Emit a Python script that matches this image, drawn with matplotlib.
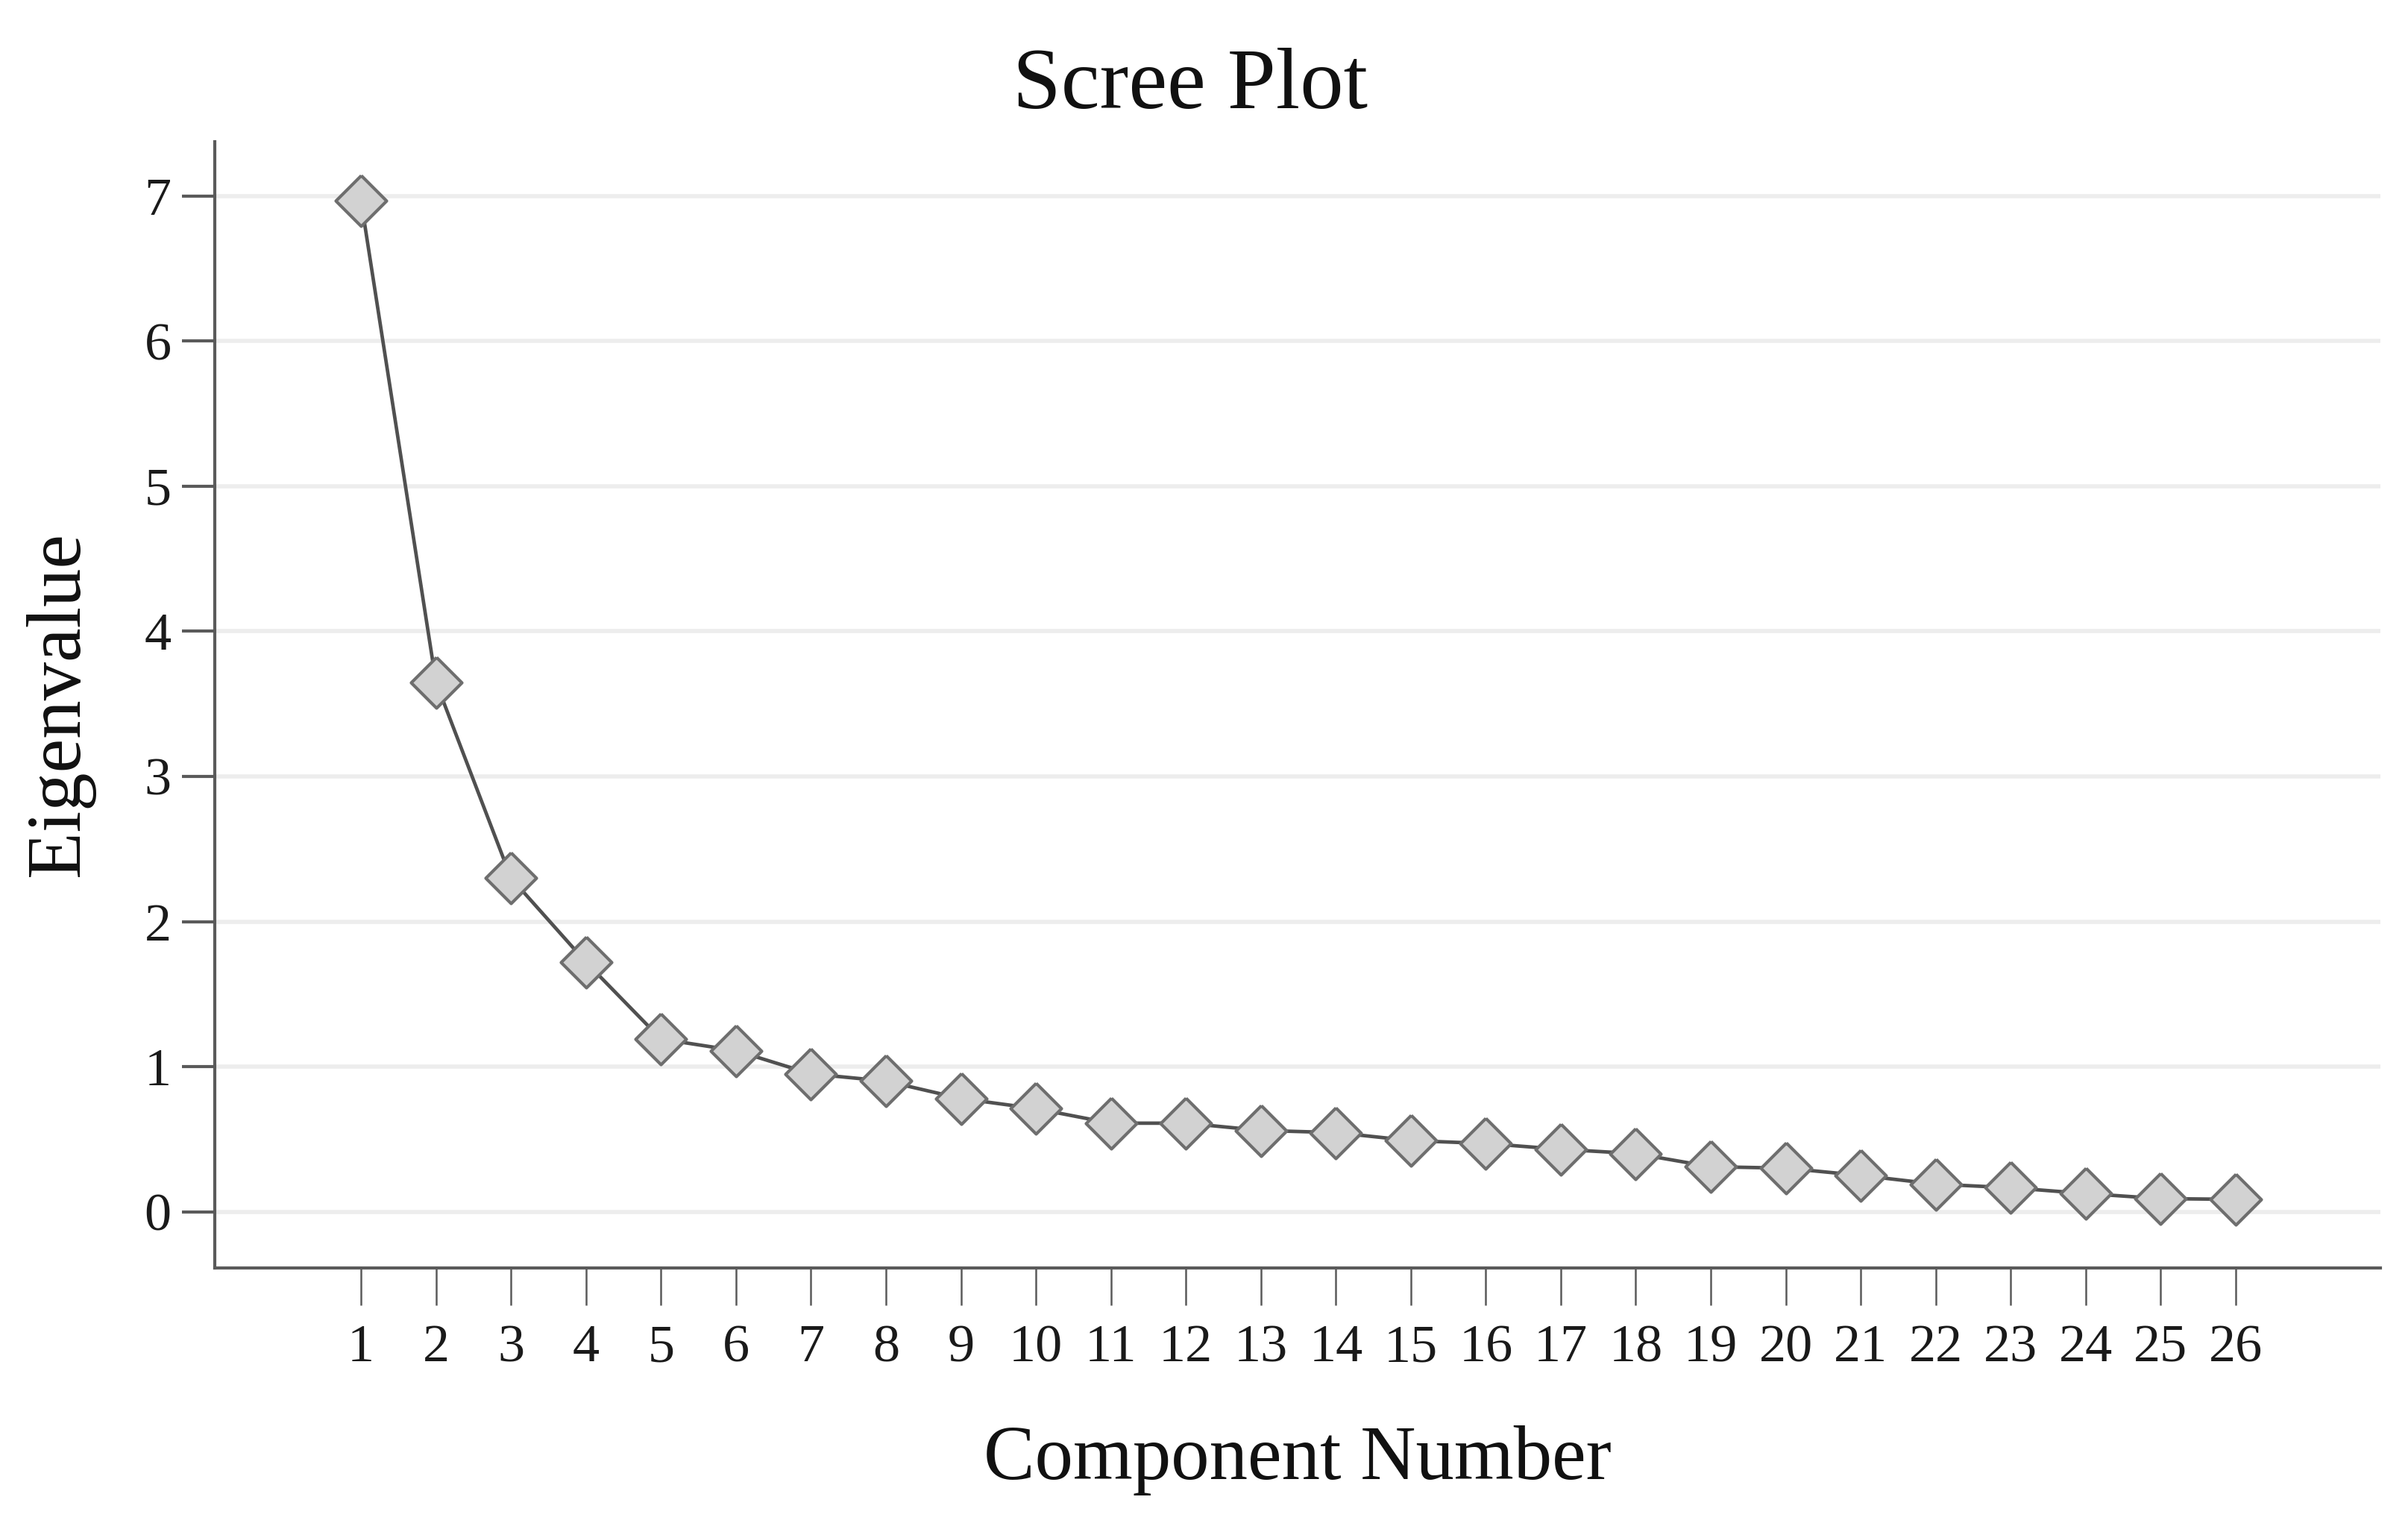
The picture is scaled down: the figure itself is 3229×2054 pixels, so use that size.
import matplotlib
matplotlib.use("Agg")
import matplotlib.pyplot as plt

components = list(range(1, 27))
eigenvalues = [6.97, 3.65, 2.30, 1.72, 1.19, 1.11, 0.95, 0.90, 0.78, 0.71,
               0.61, 0.61, 0.56, 0.545, 0.49, 0.47, 0.43, 0.40, 0.31, 0.30,
               0.25, 0.19, 0.165, 0.125, 0.09, 0.085]
y_ticks = [0, 1, 2, 3, 4, 5, 6, 7]
title = "Scree Plot"
x_label = "Component Number"
y_label = "Eigenvalue"

plt.rcParams['font.family'] = ['Liberation Serif', 'DejaVu Serif']

W, H = 3230, 2054
DPI = 200
fig = plt.figure(figsize=(W / DPI, H / DPI), dpi=DPI)
left, right, top, bottom = 288, 3192, 190, 1700
ax = fig.add_axes([left / W, 1 - bottom / H, (right - left) / W, (bottom - top) / H])

ax.set_xlim(-0.95, 27.93)
ax.set_ylim(-0.388, 7.375)

for yv in y_ticks:
    ax.axhline(yv, color='#ededed', lw=2.0, zorder=0)

diamond = [(0, 1), (1, 0), (0, -1), (-1, 0), (0, 1)]
ax.plot(components, eigenvalues, color='#505050', lw=1.7, zorder=2,
        marker=diamond, markersize=24.5, markerfacecolor='#d2d2d2',
        markeredgecolor='#6e6e6e', markeredgewidth=1.5)

ax.set_xticks(components)
ax.set_xticklabels([str(c) for c in components])
ax.set_yticks(y_ticks)
ax.set_yticklabels([str(v) for v in y_ticks])

for s in ['top', 'right']:
    ax.spines[s].set_visible(False)
for s in ['left', 'bottom']:
    ax.spines[s].set_color('#5a5a5a')
    ax.spines[s].set_linewidth(1.5)

ax.tick_params(axis='x', direction='out', length=18, width=0.9, color='#5a5a5a',
               pad=9, labelsize=26, labelcolor='#1a1a1a')
ax.tick_params(axis='y', direction='out', length=16, width=1.5, color='#5a5a5a',
               pad=5, labelsize=26, labelcolor='#1a1a1a')

fig.text(1596 / W, 1 - 145 / H, title, ha='center', va='baseline',
         fontsize=42, color='#111111')
fig.text(1740 / W, 1 - 1983 / H, x_label, ha='center', va='baseline',
         fontsize=37, color='#111111')
fig.text(80 / W, 1 - 944 / H, y_label, ha='center', va='center',
         rotation=90, fontsize=37, color='#111111')

fig.savefig("out.png", dpi=DPI, facecolor='white')
